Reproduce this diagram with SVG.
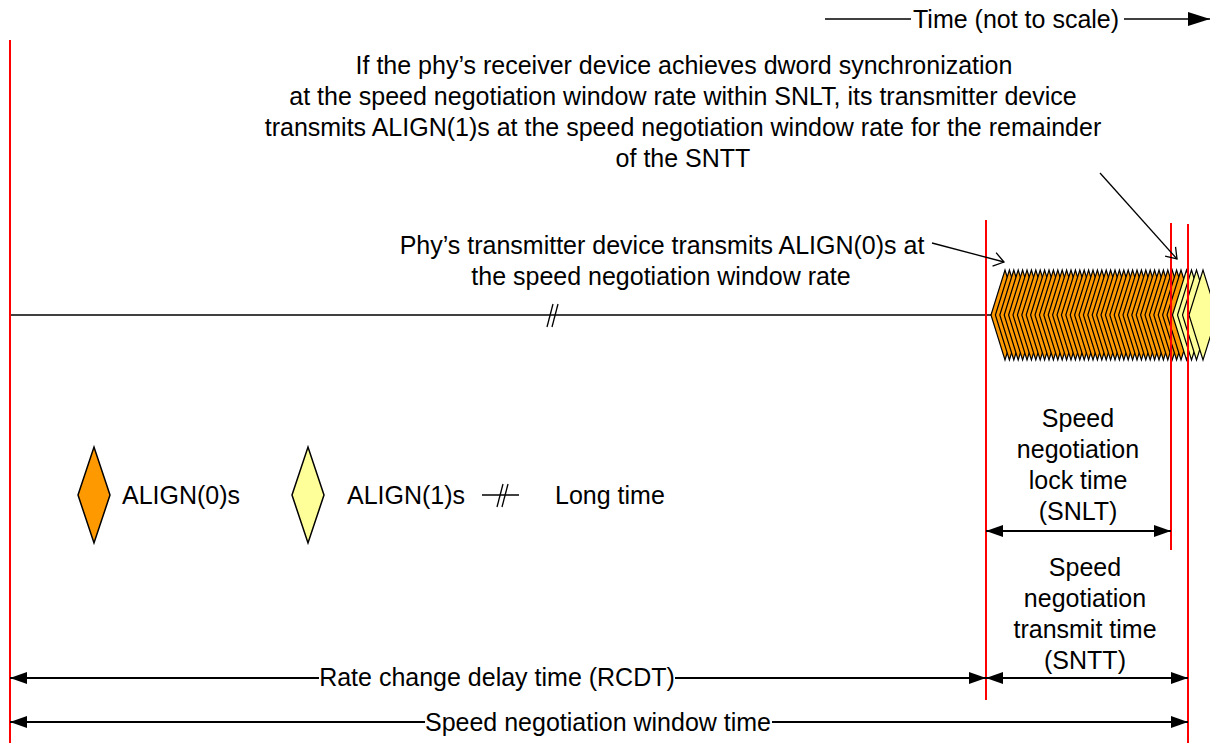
<svg xmlns="http://www.w3.org/2000/svg" width="1210" height="743" viewBox="0 0 1210 743">
<style>
.t{font-family:"Liberation Sans",Arial,sans-serif;font-size:25px;fill:#000}
.m{text-anchor:middle}
.ln{stroke:#000;stroke-width:2;fill:none}
.thin{stroke:#000;stroke-width:1.3;fill:none}
.red{stroke:#ff0000;stroke-width:2;fill:none}
.a0{fill:#ff9900;stroke:#000;stroke-width:1.2;stroke-linejoin:miter}
.a1{fill:#ffff99;stroke:#000;stroke-width:1.2;stroke-linejoin:miter}
.la0{fill:#ff9900;stroke:#000;stroke-width:1.5}
.la1{fill:#ffff99;stroke:#000;stroke-width:1.5}
</style>
<defs>
<polygon id="dia" points="0,0 14,-45 28,0 14,45"/>
<marker id="ah" viewBox="0 0 17 12" refX="17" refY="6" markerWidth="17" markerHeight="12" markerUnits="userSpaceOnUse" orient="auto-start-reverse"><path d="M0,0 L17,6 L0,12 z" fill="#000"/></marker>
<marker id="ah2" viewBox="0 0 22 14" refX="22" refY="7" markerWidth="22" markerHeight="14" markerUnits="userSpaceOnUse" orient="auto"><path d="M0,0 L22,7 L0,14 z" fill="#000"/></marker>
<marker id="oa" viewBox="-12 -9 14 18" refX="0" refY="0" markerWidth="14" markerHeight="18" markerUnits="userSpaceOnUse" orient="auto"><path d="M-10,-7 L0,0 L-10,7" fill="none" stroke="#000" stroke-width="1.3"/></marker>
</defs>

<g id="time-axis">
<line class="thin" x1="825" y1="19" x2="911" y2="19" stroke-width="1.6"/>
<text class="t" x="913" y="28">Time (not to scale)</text>
<line class="thin" x1="1124" y1="19" x2="1210" y2="19" stroke-width="1.6" marker-end="url(#ah2)"/>
</g>

<g id="note-align1">
<text class="t m" x="684" y="74">If the phy’s receiver device achieves dword synchronization</text>
<text class="t m" x="683" y="105">at the speed negotiation window rate within SNLT, its transmitter device</text>
<text class="t m" x="683" y="136">transmits ALIGN(1)s at the speed negotiation window rate for the remainder</text>
<text class="t m" x="683" y="167">of the SNTT</text>
</g>

<g id="note-align0">
<text class="t m" x="662" y="254">Phy’s transmitter device transmits ALIGN(0)s at</text>
<text class="t m" x="661" y="285">the speed negotiation window rate</text>
</g>

<g id="main-line">
<line class="thin" x1="10" y1="315" x2="992" y2="315" stroke-width="1.6"/>
<line class="thin" x1="547" y1="327" x2="553" y2="304" stroke-width="1.6"/>
<line class="thin" x1="552" y1="327" x2="558" y2="304" stroke-width="1.6"/>
</g>

<g id="align-stream">
<g class="a0">
<use href="#dia" x="991" y="315"/><use href="#dia" x="995.4" y="315"/><use href="#dia" x="999.8" y="315"/><use href="#dia" x="1004.2" y="315"/><use href="#dia" x="1008.6" y="315"/><use href="#dia" x="1013" y="315"/><use href="#dia" x="1017.4" y="315"/><use href="#dia" x="1021.8" y="315"/><use href="#dia" x="1026.2" y="315"/><use href="#dia" x="1030.6" y="315"/><use href="#dia" x="1035" y="315"/><use href="#dia" x="1039.4" y="315"/><use href="#dia" x="1043.8" y="315"/><use href="#dia" x="1048.2" y="315"/><use href="#dia" x="1052.6" y="315"/><use href="#dia" x="1057" y="315"/><use href="#dia" x="1061.4" y="315"/><use href="#dia" x="1065.8" y="315"/><use href="#dia" x="1070.2" y="315"/><use href="#dia" x="1074.6" y="315"/><use href="#dia" x="1079" y="315"/><use href="#dia" x="1083.4" y="315"/><use href="#dia" x="1087.8" y="315"/><use href="#dia" x="1092.2" y="315"/><use href="#dia" x="1096.6" y="315"/><use href="#dia" x="1101" y="315"/><use href="#dia" x="1105.4" y="315"/><use href="#dia" x="1109.8" y="315"/><use href="#dia" x="1114.2" y="315"/><use href="#dia" x="1118.6" y="315"/><use href="#dia" x="1123" y="315"/><use href="#dia" x="1127.4" y="315"/><use href="#dia" x="1131.8" y="315"/><use href="#dia" x="1136.2" y="315"/><use href="#dia" x="1140.6" y="315"/><use href="#dia" x="1145" y="315"/><use href="#dia" x="1149.4" y="315"/><use href="#dia" x="1153.8" y="315"/><use href="#dia" x="1158.2" y="315"/><use href="#dia" x="1162.6" y="315"/><use href="#dia" x="1167" y="315"/>
</g>
<g class="a1">
<use href="#dia" x="1172.5" y="315"/><use href="#dia" x="1177.5" y="315"/><use href="#dia" x="1182.5" y="315"/><use href="#dia" x="1189" y="315"/>
</g>
</g>

<g id="boundaries">
<line class="red" x1="10" y1="40" x2="10" y2="743"/>
<line class="red" x1="986" y1="220" x2="986" y2="700"/>
<line class="red" x1="1171" y1="223" x2="1171" y2="550"/>
<line class="red" x1="1188" y1="224" x2="1188" y2="743"/>
</g>

<g id="connectors">
<line class="thin" x1="1100" y1="173" x2="1177" y2="259" marker-end="url(#oa)"/>
<line class="thin" x1="932" y1="243" x2="1004" y2="262" marker-end="url(#oa)"/>
<line class="ln" x1="986" y1="531" x2="1171" y2="531" marker-start="url(#ah)" marker-end="url(#ah)"/>
<line class="ln" x1="986" y1="678" x2="1188" y2="678" marker-start="url(#ah)" marker-end="url(#ah)"/>
<line class="ln" x1="10" y1="678" x2="319" y2="678" marker-start="url(#ah)"/>
<line class="ln" x1="675" y1="678" x2="986" y2="678" marker-end="url(#ah)"/>
<line class="ln" x1="10" y1="722" x2="425" y2="722" marker-start="url(#ah)"/>
<line class="ln" x1="772" y1="722" x2="1188" y2="722" marker-end="url(#ah)"/>
</g>

<g id="snlt-label">
<text class="t m" x="1078" y="427">Speed</text>
<text class="t m" x="1078" y="458">negotiation</text>
<text class="t m" x="1078" y="489">lock time</text>
<text class="t m" x="1078" y="520">(SNLT)</text>
</g>

<g id="sntt-label">
<text class="t m" x="1085" y="576">Speed</text>
<text class="t m" x="1085" y="607">negotiation</text>
<text class="t m" x="1085" y="638">transmit time</text>
<text class="t m" x="1085" y="669">(SNTT)</text>
</g>

<g id="rcdt-label">
<text class="t m" x="497" y="686">Rate change delay time (RCDT)</text>
</g>

<g id="window-label">
<text class="t m" x="598" y="731">Speed negotiation window time</text>
</g>

<g id="legend">
<polygon class="la0" points="78,495 94,447 110,495 94,543"/>
<text class="t" x="122" y="504">ALIGN(0)s</text>
<polygon class="la1" points="292,495 308,447 324,495 308,543"/>
<text class="t" x="347" y="504">ALIGN(1)s</text>
<line class="thin" x1="482" y1="495" x2="519" y2="495"/>
<line class="thin" x1="497" y1="507" x2="503" y2="484" stroke-width="1.6"/>
<line class="thin" x1="502" y1="507" x2="508" y2="484" stroke-width="1.6"/>
<text class="t" x="555" y="504">Long time</text>
</g>
</svg>
